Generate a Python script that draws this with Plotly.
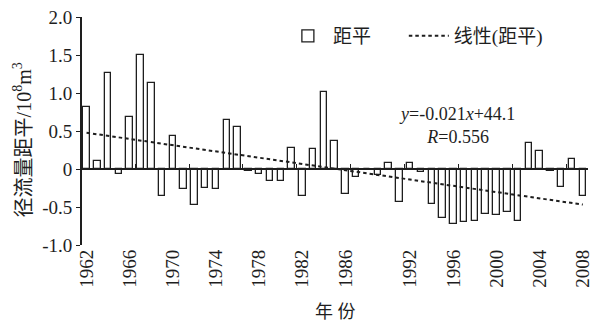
import numpy as np
import plotly.graph_objects as go

# ---- data ----
years = list(range(1962, 2009))
anomaly = [
    0.82, 0.10, 1.26, -0.06, 0.68, 1.50, 1.13, -0.36, 0.43, -0.26,   # 1962-1971
    -0.47, -0.25, -0.26, 0.65, 0.55, -0.03, -0.07, -0.16, -0.16, 0.27,  # 1972-1981
    -0.36, 0.26, 1.01, 0.37, -0.33, -0.10, 0.00, -0.08, 0.08, -0.43,   # 1982-1991
    0.08, -0.04, -0.46, -0.64, -0.72, -0.70, -0.68, -0.59, -0.60, -0.57,  # 1992-2001
    -0.68, 0.34, 0.24, -0.03, -0.24, 0.13, -0.36,                     # 2002-2008
]
xtick_years = [1962, 1966, 1970, 1974, 1978, 1982, 1986, 1992, 1996, 2000, 2004, 2008]
ytick_vals = [-1.0, -0.5, 0, 0.5, 1.0, 1.5, 2.0]
ytick_text = ["-1.0", "-0.5", "0", "0.5", "1.0", "1.5", "2.0"]
bar_name = "距平"
trend_name = "线性(距平)"
equation_text = "<i>y</i>=-0.021<i>x</i>+44.1<br><i>R</i>=0.556"
y_title = "径流量距平/10<sup>8</sup>m<sup>3</sup>"
x_title = "年 份"

# linear trend fitted from the anomaly series
slope, intercept = np.polyfit(years, anomaly, 1)
trend = [slope * y + intercept for y in years]

SERIF = "Liberation Serif, Times New Roman, serif"
CJK = "Liberation Serif, Noto Sans CJK SC, serif"
INK = "#1e1e1e"

fig = go.Figure()
fig.add_trace(go.Bar(
    x=years, y=anomaly, name=bar_name, width=0.6,
    marker=dict(color="white", line=dict(color=INK, width=1.3)),
    xaxis="x", yaxis="y", legend="legend",
))
fig.add_trace(go.Scatter(
    x=years, y=trend, name=trend_name, mode="lines",
    line=dict(color=INK, width=2, dash="3.5px,3px"),
    xaxis="x2", yaxis="y", legend="legend2",
))

legend_style = dict(
    orientation="h", y=1.0, xanchor="left", yanchor="top",
    font=dict(family=CJK, size=19, color=INK),
    bgcolor="rgba(0,0,0,0)", itemwidth=40,
)

# the page body has an 8px margin, so the figure is drawn 8px smaller
fig.update_layout(
    width=596, height=317,
    margin=dict(l=74, r=16, t=9, b=80, autoexpand=False),
    paper_bgcolor="white", plot_bgcolor="white",
    showlegend=True,
    legend=dict(x=0.397, **legend_style),
    legend2=dict(x=0.636, **legend_style),
    bargap=0,
    xaxis=dict(
        range=[1961.58, 2008.48], showgrid=False, zeroline=False,
        showline=False, ticks="", tickmode="array", tickvals=xtick_years,
        ticktext=[str(y) for y in xtick_years], tickangle=-90,
        tickfont=dict(family=SERIF, size=19, color=INK), automargin=False,
    ),
    xaxis2=dict(
        matches="x", overlaying="x", anchor="free", position=1 / 3,
        side="top", showline=True, linecolor=INK, linewidth=1.6,
        showgrid=False, zeroline=False, ticks="outside", ticklen=4,
        tickwidth=1.3, tickcolor=INK, tickmode="linear", tick0=1961.5,
        dtick=5, showticklabels=False, automargin=False,
    ),
    yaxis=dict(
        range=[-1.0, 2.0], showgrid=False, zeroline=False,
        showline=True, linecolor=INK, linewidth=1.8,
        ticks="outside", ticklen=4, tickwidth=1.3, tickcolor=INK,
        tickmode="array", tickvals=ytick_vals, ticktext=ytick_text,
        tickfont=dict(family=SERIF, size=19, color=INK), automargin=False,
        ticklabeloverflow="allow",
    ),
    annotations=[
        dict(text=y_title, xref="paper", yref="paper", x=-0.118, y=0.46,
             xanchor="center", yanchor="middle", textangle=-90, showarrow=False,
             font=dict(family=CJK, size=20, color=INK)),
        dict(text=x_title, xref="paper", yref="paper", x=0.5, y=-0.294,
             xanchor="center", yanchor="middle", showarrow=False,
             font=dict(family=CJK, size=18, color=INK)),
        dict(text=equation_text, xref="paper", yref="y", x=0.741, y=0.57,
             xanchor="center", yanchor="middle", showarrow=False, align="center",
             font=dict(family=SERIF, size=18, color=INK)),
    ],
)

fig.write_html("out.html")
